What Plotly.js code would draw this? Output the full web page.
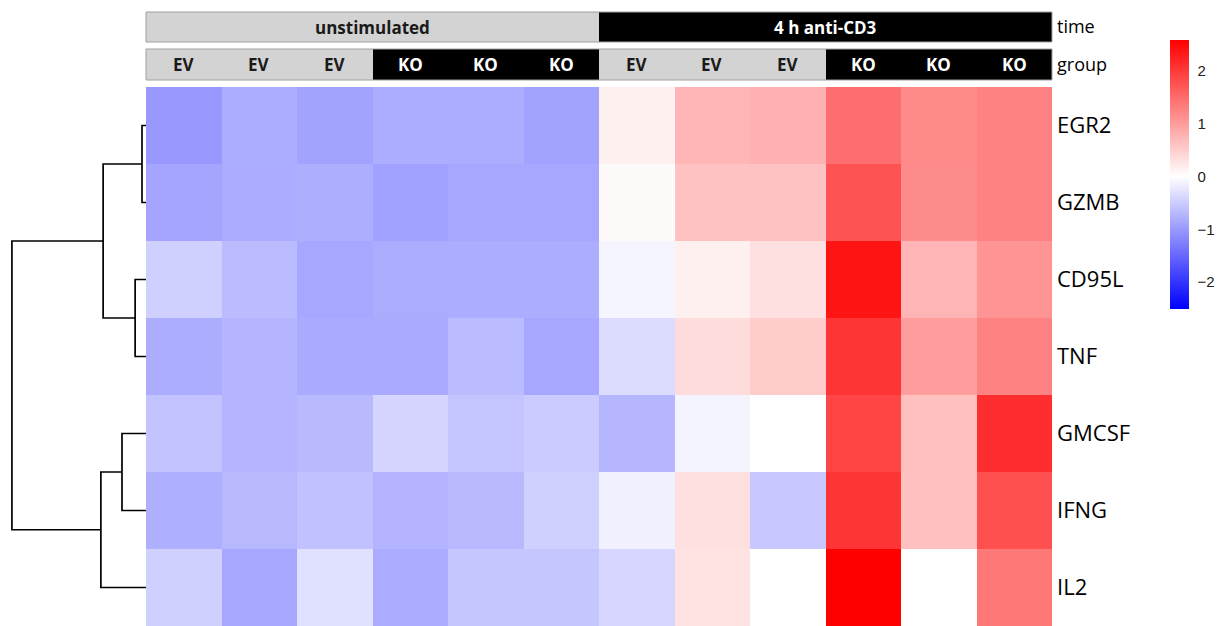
<!DOCTYPE html>
<html>
<head>
<meta charset="utf-8">
<script src="https://cdn.plot.ly/plotly-3.0.1.min.js"></script>
<style>html,body{margin:0;padding:0;background:#fff;}#chart{width:1223px;height:626px;}</style>
</head>
<body>
<div id="chart"></div>
<script>
// ---- data ----
const genes = ['EGR2', 'GZMB', 'CD95L', 'TNF', 'GMCSF', 'IFNG', 'IL2'];
const groups = ['EV', 'EV', 'EV', 'KO', 'KO', 'KO', 'EV', 'EV', 'EV', 'KO', 'KO', 'KO'];
const times = ['unstimulated', 'unstimulated', 'unstimulated', 'unstimulated', 'unstimulated', 'unstimulated',
               '4 h anti-CD3', '4 h anti-CD3', '4 h anti-CD3', '4 h anti-CD3', '4 h anti-CD3', '4 h anti-CD3'];
const EGR2  = [-1.01, -0.81, -0.92, -0.81, -0.81, -0.92, 0.15, 0.75, 0.80, 1.47, 1.19, 1.27];
const GZMB  = [-0.89, -0.83, -0.80, -0.93, -0.87, -0.87, 0.05, 0.62, 0.62, 1.75, 1.17, 1.27];
const CD95L = [-0.46, -0.67, -0.87, -0.82, -0.81, -0.81, -0.10, 0.15, 0.31, 2.38, 0.75, 1.08];
const TNF   = [-0.81, -0.73, -0.84, -0.84, -0.67, -0.87, -0.34, 0.35, 0.52, 2.05, 1.00, 1.27];
const GMCSF = [-0.59, -0.73, -0.69, -0.41, -0.58, -0.51, -0.72, -0.11, 0.00, 1.89, 0.64, 2.12];
const IFNG  = [-0.79, -0.70, -0.61, -0.75, -0.70, -0.46, -0.15, 0.31, -0.54, 2.05, 0.64, 1.77];
const IL2   = [-0.46, -0.87, -0.31, -0.83, -0.56, -0.56, -0.40, 0.29, 0.00, 2.58, 0.00, 1.37];
// row dendrogram (hclust style: negative = leaf index (1-based), positive = earlier merge)
const mergeA = [-1, -3, 1, -5, 4, 3];
const mergeB = [-2, -4, 2, -6, -7, 5];
const mergeHeight = [0.125, 0.34, 1.34, 0.75, 1.41, 4.19];
const colorMin = -2.51, colorMax = 2.585;
const cbTicks = [-2, -1, 0, 1, 2];
const cbTickText = ['\u22122', '\u22121', '0', '1', '2'];

// ---- build ----
const W = 1223, H = 626;
const px = v => v / W, py = v => 1 - v / H;
const z = [EGR2, GZMB, CD95L, TNF, GMCSF, IFNG, IL2];
const colIdx = groups.map((_, i) => i);
const rowIdx = genes.map((_, i) => i);
const whitePos = (0 - colorMin) / (colorMax - colorMin);

const traces = [];
traces.push({
  type: 'heatmap', x: colIdx, y: rowIdx, z: z, xaxis: 'x', yaxis: 'y',
  zmin: colorMin, zmax: colorMax, zsmooth: false,
  colorscale: [[0, '#0000FF'], [whitePos, '#FFFFFF'], [1, '#FF0000']],
  hoverinfo: 'skip',
  colorbar: {
    x: px(1170), xanchor: 'left', xpad: 0,
    y: py(40), yanchor: 'top', ypad: 0,
    len: 269, lenmode: 'pixels', thickness: 19, thicknessmode: 'pixels',
    outlinewidth: 0, tickmode: 'array', tickvals: cbTicks, ticktext: cbTickText,
    ticks: 'outside', ticklen: 6, tickcolor: 'rgba(0,0,0,0)',
    tickfont: {family: 'Liberation Sans, Arial, sans-serif', size: 15, color: '#222'}
  }
});
const annCS = [[0, '#D3D3D3'], [1, '#000000']];
traces.push({type: 'heatmap', x: colIdx, y: [0], z: [times.map(t => t === 'unstimulated' ? 0 : 1)],
  zmin: 0, zmax: 1, colorscale: annCS, showscale: false, xaxis: 'x', yaxis: 'y2', hoverinfo: 'skip'});
traces.push({type: 'heatmap', x: colIdx, y: [0], z: [groups.map(g => g === 'EV' ? 0 : 1)],
  zmin: 0, zmax: 1, colorscale: annCS, showscale: false, xaxis: 'x', yaxis: 'y3', hoverinfo: 'skip'});

// dendrogram segments
const nodePos = [], nodeH = [];
const dx = [], dy = [];
function info(id) {
  if (id < 0) return {y: -id - 1, h: 0};
  return {y: nodePos[id - 1], h: nodeH[id - 1]};
}
for (let i = 0; i < mergeA.length; i++) {
  const a = info(mergeA[i]), b = info(mergeB[i]), h = mergeHeight[i];
  dx.push(a.h, h, h, b.h, null);
  dy.push(a.y, a.y, b.y, b.y, null);
  nodePos.push((a.y + b.y) / 2); nodeH.push(h);
}
traces.push({type: 'scatter', mode: 'lines', x: dx, y: dy, xaxis: 'x2', yaxis: 'y',
  line: {color: '#000', width: 1.7}, hoverinfo: 'skip', showlegend: false, connectgaps: false});

// annotation bar labels
const annotations = [];
function addBarLabels(arr, yref, darkVal) {
  let start = 0;
  for (let i = 1; i <= arr.length; i++) {
    if (i === arr.length || arr[i] !== arr[start]) {
      annotations.push({x: (start + i - 1) / 2, y: 0, xref: 'x', yref: yref, text: '<b>' + arr[start] + '</b>',
        showarrow: false, font: {family: 'Open Sans, sans-serif', size: 17, color: arr[start] === darkVal ? '#1a1a1a' : '#ffffff'}});
      start = i;
    }
  }
}
addBarLabels(times, 'y2', 'unstimulated');
groups.forEach((g, i) => annotations.push({x: i, y: 0, xref: 'x', yref: 'y3', text: '<b>' + g + '</b>', showarrow: false,
  font: {family: 'Open Sans, sans-serif', size: 17, color: g === 'EV' ? '#1a1a1a' : '#ffffff'}}));

const shapes = [
  {type: 'rect', xref: 'paper', yref: 'paper', x0: px(146), x1: px(1052), y0: py(42), y1: py(12), line: {color: '#A0A0A0', width: 1}},
  {type: 'rect', xref: 'paper', yref: 'paper', x0: px(146), x1: px(1052), y0: py(80), y1: py(49), line: {color: '#A0A0A0', width: 1}}
];

const rightAxis = (dom, vals, text, size) => ({
  domain: dom, anchor: 'x', side: 'right', range: [0.5, -0.5],
  tickmode: 'array', tickvals: vals, ticktext: text, ticks: '', ticklabelstandoff: 4,
  showgrid: false, zeroline: false, showline: false,
  tickfont: {family: 'Open Sans, sans-serif', size: size, color: '#000'}, fixedrange: true
});

const layout = {
  width: W, height: H, margin: {l: 0, r: 0, t: 0, b: 0},
  paper_bgcolor: '#fff', plot_bgcolor: 'rgba(0,0,0,0)', showlegend: false,
  xaxis: {domain: [px(146), px(1052)], range: [-0.5, 11.5], visible: false, fixedrange: true},
  xaxis2: {domain: [0, px(146)], range: [146 / 32, 0], visible: false, anchor: 'y', fixedrange: true},
  yaxis: Object.assign(rightAxis([0, py(87)], rowIdx, genes, 22), {range: [6.5, -0.5]}),
  yaxis2: rightAxis([py(42), py(12)], [0], ['time'], 18),
  yaxis3: rightAxis([py(80), py(49)], [0], ['group'], 18),
  annotations: annotations, shapes: shapes
};
Plotly.newPlot('chart', traces, layout, {displayModeBar: false, staticPlot: true});
</script>
</body>
</html>
